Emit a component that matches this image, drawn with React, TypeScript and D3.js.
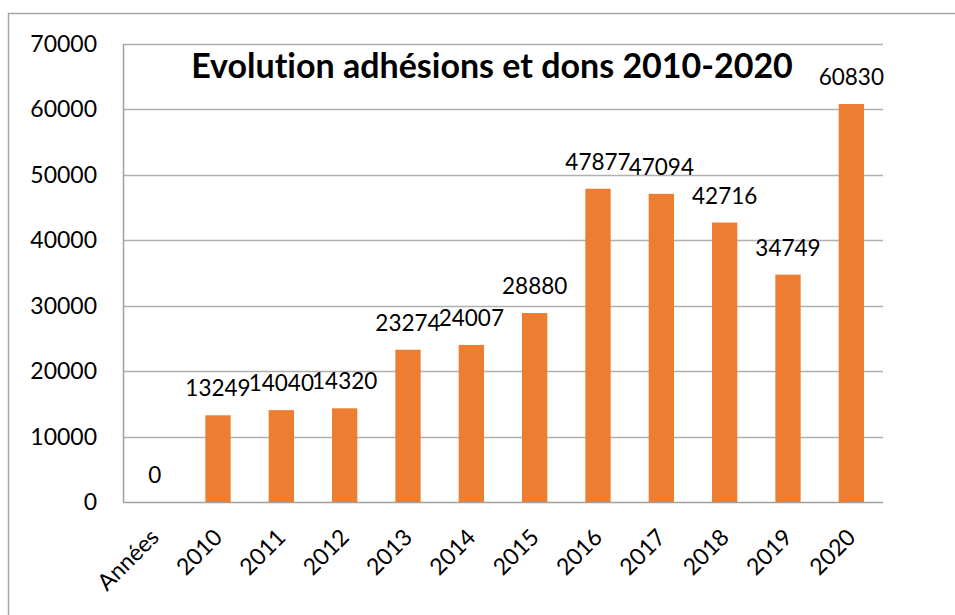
import * as d3 from "d3";
import { useEffect, useRef } from "react";

const categories = ["Années", "2010", "2011", "2012", "2013", "2014", "2015", "2016", "2017", "2018", "2019", "2020"];
const values = [0, 13249, 14040, 14320, 23274, 24007, 28880, 47877, 47094, 42716, 34749, 60830];
const yTicks = [0, 10000, 20000, 30000, 40000, 50000, 60000, 70000];
const title = "Evolution adhésions et dons 2010-2020";

const App = () => {
  const ref = useRef(null);

  useEffect(() => {
    var width = 955;
    var height = 615;
    var font = "Lato, 'Open Sans', sans-serif";

    var svg = d3
      .select(ref.current)
      .append("svg")
      .attr("width", width)
      .attr("height", height)
      .style("position", "absolute")
      .style("left", "0px")
      .style("top", "0px")
      .style("background", "white")
      .style("font-variant-ligatures", "none");

    // outer chart border
    svg
      .append("rect")
      .attr("x", 8.5)
      .attr("y", 13.5)
      .attr("width", 960)
      .attr("height", 620)
      .attr("fill", "white")
      .attr("stroke", "#a6a6a6")
      .attr("stroke-width", 1.5);

    var x = d3.scaleBand().domain(categories).range([123, 883]).paddingInner(0.6).paddingOuter(0.3);
    var y = d3.scaleLinear().domain([0, 70000]).range([502, 44]);

    // gridlines
    svg
      .selectAll("grid")
      .data(yTicks)
      .enter()
      .append("line")
      .attr("x1", 123)
      .attr("x2", 883)
      .attr("y1", (d) => Math.round(y(d)) + 0.5)
      .attr("y2", (d) => Math.round(y(d)) + 0.5)
      .attr("stroke", (d) => (d === 0 ? "#a0a0a0" : "#b0b0b0"))
      .attr("stroke-width", 1.5);

    // y axis line
    svg
      .append("line")
      .attr("x1", 123.5)
      .attr("x2", 123.5)
      .attr("y1", 44)
      .attr("y2", 502)
      .attr("stroke", "#a0a0a0")
      .attr("stroke-width", 1.5);

    svg
      .selectAll("ytick")
      .data(yTicks)
      .enter()
      .append("text")
      .attr("x", 97)
      .attr("y", (d) => y(d))
      .attr("dy", "0.35em")
      .attr("text-anchor", "end")
      .style("font-family", font)
      .style("font-size", "23px")
      .attr("fill", "#000")
      .text((d) => d);

    // bars
    svg
      .selectAll("bars")
      .data(values)
      .enter()
      .append("rect")
      .attr("x", (d, i) => x(categories[i]) as number)
      .attr("width", x.bandwidth())
      .attr("y", (d) => y(d))
      .attr("height", (d) => y(0) - y(d))
      .attr("fill", "#ed7d31");

    // data labels
    svg
      .selectAll("labels")
      .data(values)
      .enter()
      .append("text")
      .attr("x", (d, i) => (x(categories[i]) as number) + x.bandwidth() / 2)
      .attr("y", (d) => y(d) - 19)
      .attr("text-anchor", "middle")
      .style("font-family", font)
      .style("font-size", "22.5px")
      .attr("fill", "#000")
      .text((d) => d);

    // x labels
    svg
      .selectAll("xlabels")
      .data(categories)
      .enter()
      .append("text")
      .attr("transform", (d) => "translate(" + ((x(d) as number) + x.bandwidth() / 2) + ",533) rotate(-45)")
      .attr("dy", "0.35em")
      .attr("text-anchor", "end")
      .style("font-family", font)
      .style("font-size", "23px")
      .attr("fill", "#000")
      .text((d) => d);

    // title
    svg
      .append("text")
      .attr("x", 492)
      .attr("y", 78)
      .attr("text-anchor", "middle")
      .style("font-family", font)
      .style("font-weight", "bold")
      .style("font-size", "34px")
      .attr("fill", "#000")
      .text(title);

    return function () {
      svg.remove();
    };
  }, []);
  return <div ref={ref} />;
};

export default App;
